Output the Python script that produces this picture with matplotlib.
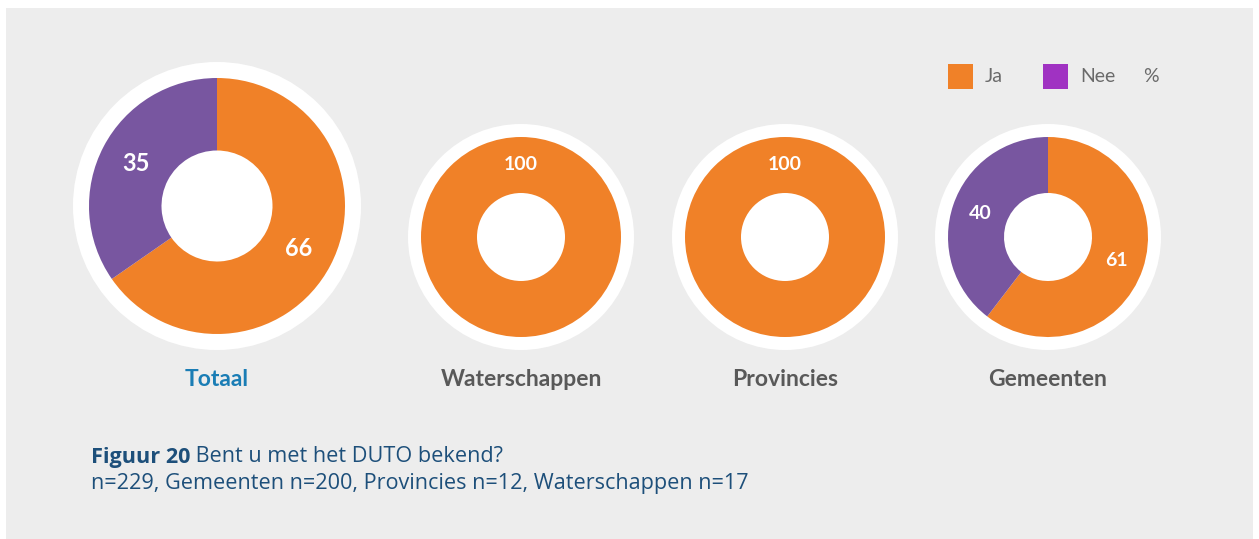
import numpy as np
import matplotlib
matplotlib.use("Agg")
import matplotlib.pyplot as plt
from matplotlib.patches import Circle, Rectangle

# ---- data ----
groups = ["Totaal", "Waterschappen", "Provincies", "Gemeenten"]
ja = [66, 100, 100, 61]
nee = [35, 0, 0, 40]
legend_labels = ["Ja", "Nee"]
caption_bold = "Figuur 20"
caption_rest = " Bent u met het DUTO bekend?"
caption_line2 = "n=229, Gemeenten n=200, Provincies n=12, Waterschappen n=17"

# ---- style ----
W, H = 1259, 539
BG = "#ededed"
ORANGE = "#f08128"
PURPLE = "#7856a0"
LEG_PURPLE = "#a032c2"
CAP = "#1d4f7a"
FONT = "Lato"
CAPFONT = "Open Sans"

fig = plt.figure(figsize=(W / 100, H / 100), dpi=100, facecolor="white")
ax = fig.add_axes([0, 0, 1, 1])

def Y(y):
    return H - y

# layout (pixel centres / radii)
centers = [(217, 206), (521, 237), (785, 237), (1048, 237)]
r_outer = [144, 113, 113, 113]
r_ring = [128, 100, 100, 100]
r_hole = [55.5, 44, 44, 44]
val_size = [17, 14, 14, 14]
title_color = ["#1a7db5", "#595959", "#595959", "#595959"]

for i, g in enumerate(groups):
    cx, cy = centers[i]
    c = (cx, Y(cy))
    ax.add_patch(Circle(c, r_outer[i], facecolor="white", edgecolor="none", zorder=1))
    vals = [ja[i], nee[i]]
    ax.pie(vals, colors=[ORANGE, PURPLE], startangle=90, counterclock=False,
           center=c, radius=r_ring[i], frame=True,
           wedgeprops=dict(width=r_ring[i] - r_hole[i], linewidth=0, zorder=2))
    total = sum(vals)
    rl = (r_ring[i] + r_hole[i]) / 2
    start = 90.0
    for v in vals:
        if v == 0:
            continue
        span = v / total * 360
        mid = 90.0 if span >= 359.9 else start - span / 2
        start -= span
        a = np.deg2rad(mid)
        ax.text(c[0] + rl * np.cos(a), c[1] + rl * np.sin(a), str(v),
                ha="center", va="center", color="white", fontsize=val_size[i],
                fontweight="bold", family=FONT, zorder=3)
    ax.text(cx, Y(380), g, ha="center", va="center", color=title_color[i],
            fontsize=16.5, fontweight="bold", family=FONT, zorder=3)

# legend
ax.add_patch(Rectangle((948, Y(89)), 25, 25, facecolor=ORANGE, edgecolor="none", zorder=3))
ax.text(985, Y(77), legend_labels[0], ha="left", va="center", color="#6a6a6a",
        fontsize=14, family=FONT)
ax.add_patch(Rectangle((1043, Y(89)), 25, 25, facecolor=LEG_PURPLE, edgecolor="none", zorder=3))
ax.text(1080, Y(77), legend_labels[1], ha="left", va="center", color="#6a6a6a",
        fontsize=14, family=FONT)
ax.text(1143, Y(77), "%", ha="left", va="center", color="#6a6a6a",
        fontsize=14, family=FONT)

# caption
t = ax.text(91, Y(457), caption_bold, ha="left", va="center", color=CAP,
            fontsize=15.6, fontweight="bold", family=CAPFONT)
ax.annotate(caption_rest, xy=(1, 0.5), xycoords=t, ha="left", va="center",
            color=CAP, fontsize=15.6, family=CAPFONT)
ax.text(91, Y(483), caption_line2, ha="left", va="center", color=CAP,
        fontsize=15.6, family=CAPFONT)

# background panel
ax.add_patch(Rectangle((6, 0), 1247, H - 8, facecolor=BG, edgecolor="none", zorder=0))

ax.set_xlim(0, W)
ax.set_ylim(0, H)
ax.set_aspect("auto")
ax.axis("off")
fig.savefig("out.png", dpi=100, facecolor="white")
